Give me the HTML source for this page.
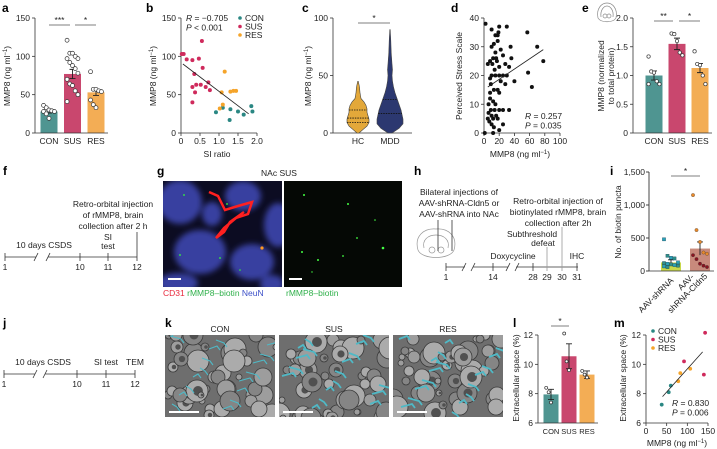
<!DOCTYPE html>
<html><head><meta charset="utf-8"><style>
html,body{margin:0;padding:0;background:#fff;overflow:hidden;}
svg{display:block;font-family:"Liberation Sans",sans-serif;}
.t{font-size:8.5px;fill:#222;}
.ts{font-size:7.5px;fill:#222;}
.pl{font-size:12px;font-weight:bold;fill:#000;}
</style></head><body>
<svg id="fig" width="717" height="449" viewBox="0 0 717 449" xmlns="http://www.w3.org/2000/svg">
<defs>
<filter id="blur2"><feGaussianBlur stdDeviation="3"/></filter>
<clipPath id="cg1"><rect x="163" y="181" width="119" height="106"/></clipPath>
<clipPath id="ck1"><rect x="165" y="335" width="110" height="82"/></clipPath>
<clipPath id="ck2"><rect x="279" y="335" width="110" height="82"/></clipPath>
<clipPath id="ck3"><rect x="393" y="335" width="110" height="82"/></clipPath>
</defs>
<text class="pl" x="2" y="12">a</text>
<text class="pl" x="146" y="12">b</text>
<text class="pl" x="302" y="12">c</text>
<text class="pl" x="451" y="12">d</text>
<text class="pl" x="582" y="12">e</text>
<text class="pl" x="3" y="175">f</text>
<text class="pl" x="157" y="175">g</text>
<text class="pl" x="414" y="175">h</text>
<text class="pl" x="610" y="175">i</text>
<text class="pl" x="3" y="327">j</text>
<text class="pl" x="165" y="327">k</text>
<text class="pl" x="513" y="327">l</text>
<text class="pl" x="614" y="327">m</text>

<text class="t" transform="translate(10,76) rotate(-90)" text-anchor="middle">MMP8 (ng ml<tspan dy="-3" font-size="6">−1</tspan><tspan dy="3">)</tspan></text>
<text class="t" transform="translate(156,76) rotate(-90)" text-anchor="middle">MMP8 (ng ml<tspan dy="-3" font-size="6">−1</tspan><tspan dy="3">)</tspan></text>
<text class="t" x="217" y="157" text-anchor="middle">SI ratio</text>
<text class="t" transform="translate(311,76) rotate(-90)" text-anchor="middle">MMP8 (ng ml<tspan dy="-3" font-size="6">−1</tspan><tspan dy="3">)</tspan></text>
<text class="t" transform="translate(462,76) rotate(-90)" text-anchor="middle">Perceived Stress Scale</text>
<text class="t" x="520" y="157" text-anchor="middle">MMP8 (ng ml<tspan dy="-3" font-size="6">−1</tspan><tspan dy="3">)</tspan></text>
<text class="t" transform="translate(604,76) rotate(-90)" text-anchor="middle"><tspan x="0" dy="0">MMP8 (normalized</tspan><tspan x="0" dy="10">to total protein)</tspan></text>
<text class="t" transform="translate(621,222) rotate(-90)" text-anchor="middle">No. of biotin puncta</text>
<text class="t" transform="translate(519,378) rotate(-90)" text-anchor="middle">Extracellular space (%)</text>
<text class="t" transform="translate(626,378) rotate(-90)" text-anchor="middle">Extracellular space (%)</text>
<text class="t" x="677" y="446" text-anchor="middle">MMP8 (ng ml<tspan dy="-3" font-size="6">−1</tspan><tspan dy="3">)</tspan></text>

<g fill="none" stroke="#888" stroke-width="0.7">
<path d="M598,18 C596,8 602,3 607,3 C612,3 618,8 616,18 C613,23 601,23 598,18 Z"/>
<path d="M601,17 C600,10 604,6 607,6 C610,6 614,10 613,17"/>
<circle cx="605" cy="16" r="2"/><circle cx="609" cy="16" r="2"/>
</g>

<g stroke="#333" stroke-width="0.8">
<line x1="5" y1="257" x2="137" y2="257"/>
<line x1="5" y1="253" x2="5" y2="261"/><line x1="80" y1="253" x2="80" y2="261"/><line x1="108" y1="253" x2="108" y2="261"/><line x1="137" y1="232" x2="137" y2="261"/>
</g>
<rect x="36" y="252" width="12" height="10" fill="#fff"/>
<line x1="34" y1="261" x2="38" y2="253" stroke="#333" stroke-width="0.8"/><line x1="46" y1="261" x2="50" y2="253" stroke="#333" stroke-width="0.8"/>
<g text-anchor="middle">
<text class="t" x="5" y="270">1</text><text class="t" x="80" y="270">10</text><text class="t" x="108" y="270">11</text><text class="t" x="137" y="270">12</text>
<text class="t" x="44" y="248">10 days CSDS</text>
<text class="t" x="108" y="240">SI</text><text class="t" x="108" y="249">test</text>
<text class="t" x="113" y="207">Retro-orbital injection</text>
<text class="t" x="113" y="218">of rMMP8, brain</text>
<text class="t" x="113" y="229">collection after 2 h</text>
</g>

<text class="t" x="279" y="176" text-anchor="middle">NAc SUS</text>
<g clip-path="url(#cg1)">
<rect x="163" y="181" width="119" height="106" fill="#0c0c22"/>
<g fill="#3840a0" filter="url(#blur2)">
<ellipse cx="180" cy="202" rx="22" ry="22"/><ellipse cx="200" cy="252" rx="26" ry="22"/><ellipse cx="243" cy="196" rx="18" ry="15"/>
<ellipse cx="252" cy="262" rx="22" ry="18"/><ellipse cx="278" cy="225" rx="14" ry="22"/><ellipse cx="178" cy="283" rx="20" ry="10"/><ellipse cx="272" cy="284" rx="12" ry="9"/><ellipse cx="212" cy="214" rx="10" ry="12"/>
</g>
<path d="M209,192 L218,196 L225,210 L238,206 L252,202 L248,214 L236,218 L224,228 L216,238 L224,232 L230,222 L244,212" fill="none" stroke="#ff2020" stroke-width="2.5"/>
<circle cx="262" cy="248" r="1.6" fill="#ff9a20"/>
<g fill="#3f3"><circle cx="184" cy="195" r="0.9"/><circle cx="227" cy="204" r="0.9"/><circle cx="180" cy="255" r="0.9"/><circle cx="220" cy="258" r="0.9"/><circle cx="240" cy="270" r="0.8"/></g>
<rect x="168" y="278" width="13" height="2" fill="#fff"/>
</g>
<g>
<rect x="284" y="181" width="118" height="106" fill="#050805"/>
<g fill="#4f4"><circle cx="304" cy="195" r="1"/><circle cx="348" cy="204" r="1"/><circle cx="357" cy="238" r="0.9"/><circle cx="383" cy="248" r="1.3"/><circle cx="302" cy="252" r="1"/><circle cx="318" cy="260" r="1"/><circle cx="343" cy="256" r="0.9"/><circle cx="375" cy="220" r="0.8"/><circle cx="312" cy="272" r="0.7"/></g>
<rect x="289" y="278" width="13" height="2" fill="#fff"/>
</g>
<text class="t" x="163" y="296"><tspan style="fill:#e8283c">CD31</tspan> <tspan style="fill:#2fb04a">rMMP8–biotin</tspan> <tspan style="fill:#3c50c8">NeuN</tspan></text>
<text class="t" x="286" y="296" style="fill:#2fb04a">rMMP8–biotin</text>

<g fill="none" stroke="#999" stroke-width="0.7">
<path d="M418,250 C414,236 424,228 436,229 C448,228 458,236 454,250 C450,260 422,260 418,250 Z"/>
<path d="M424,248 C422,240 428,235 436,235 C444,235 450,240 448,248"/>
<circle cx="432" cy="250" r="3"/><circle cx="441" cy="250" r="3"/>
</g>
<g stroke="#333" stroke-width="0.8">
<line x1="438" y1="220" x2="438" y2="251"/><line x1="452" y1="220" x2="452" y2="251"/>
<line x1="446" y1="267" x2="578" y2="267"/>
<line x1="446" y1="263" x2="446" y2="271"/><line x1="493" y1="263" x2="493" y2="271"/><line x1="533" y1="263" x2="533" y2="271"/>
<line x1="547" y1="247" x2="547" y2="271" stroke="#999"/><line x1="562" y1="227" x2="562" y2="271" stroke="#999"/><line x1="577" y1="263" x2="577" y2="271"/>
</g>
<rect x="465" y="262" width="8" height="10" fill="#fff"/><rect x="508" y="262" width="8" height="10" fill="#fff"/>
<g stroke="#333" stroke-width="0.8"><line x1="462" y1="271" x2="466" y2="263"/><line x1="471" y1="271" x2="475" y2="263"/><line x1="506" y1="271" x2="510" y2="263"/><line x1="515" y1="271" x2="519" y2="263"/></g>
<g text-anchor="middle">
<text class="t" x="446" y="280">1</text><text class="t" x="493" y="280">14</text><text class="t" x="533" y="280">28</text><text class="t" x="547" y="280">29</text><text class="t" x="562" y="280">30</text><text class="t" x="577" y="280">31</text>
<text class="t" x="459" y="195">Bilateral injections of</text><text class="t" x="459" y="206">AAV-shRNA-Cldn5 or</text><text class="t" x="459" y="217">AAV-shRNA into NAc</text>
<text class="t" x="558" y="204">Retro-orbital injection of</text><text class="t" x="558" y="215">biotinylated rMMP8, brain</text><text class="t" x="558" y="226">collection after 2h</text>
<text class="t" x="532" y="237">Subthreshold</text><text class="t" x="543" y="246">defeat</text>
<text class="t" x="513" y="259">Doxycycline</text><text class="t" x="577" y="259">IHC</text>
</g>

<g stroke="#333" stroke-width="0.8">
<line x1="4" y1="374" x2="135" y2="374"/>
<line x1="4" y1="370" x2="4" y2="378"/><line x1="77" y1="370" x2="77" y2="378"/><line x1="106" y1="370" x2="106" y2="378"/><line x1="135" y1="370" x2="135" y2="378"/>
</g>
<rect x="35" y="369" width="10" height="10" fill="#fff"/>
<g stroke="#333" stroke-width="0.8"><line x1="33" y1="378" x2="37" y2="370"/><line x1="43" y1="378" x2="47" y2="370"/></g>
<g text-anchor="middle">
<text class="t" x="4" y="387">1</text><text class="t" x="77" y="387">10</text><text class="t" x="106" y="387">11</text><text class="t" x="135" y="387">12</text>
<text class="t" x="43" y="365">10 days CSDS</text><text class="t" x="106" y="365">SI test</text><text class="t" x="135" y="365">TEM</text>
</g>

<text class="t" x="220" y="332" text-anchor="middle">CON</text>
<text class="t" x="334" y="332" text-anchor="middle">SUS</text>
<text class="t" x="448" y="332" text-anchor="middle">RES</text>
<g id="kimgs"></g>

<g id="charts"></g>

<g>
<line x1="649" y1="172" x2="649" y2="271" stroke="#333" stroke-width="0.9"/>
<line x1="646" y1="271" x2="649" y2="271" stroke="#333" stroke-width="0.9"/>
<line x1="646" y1="238" x2="649" y2="238" stroke="#333" stroke-width="0.9"/>
<line x1="646" y1="205" x2="649" y2="205" stroke="#333" stroke-width="0.9"/>
<line x1="646" y1="172" x2="649" y2="172" stroke="#333" stroke-width="0.9"/>
<text x="645" y="274" text-anchor="end" font-size="8.5" fill="#222">0</text>
<text x="645" y="241" text-anchor="end" font-size="8.5" fill="#222">500</text>
<text x="645" y="208" text-anchor="end" font-size="8.5" fill="#222">1,000</text>
<text x="645" y="175" text-anchor="end" font-size="8.5" fill="#222">1,500</text>
</g>
</svg>
<script>
const NS='http://www.w3.org/2000/svg';
const root=document.getElementById('charts');
function mk(tag,attrs,parent){const e=document.createElementNS(NS,tag);for(const k in attrs)e.setAttribute(k,attrs[k]);(parent||root).appendChild(e);return e;}
function lin(d0,d1,p0,p1){return v=>p0+(v-d0)*(p1-p0)/(d1-d0);}

const TEAL='#4f9591',PINK='#c9476e',ORANGE='#f3ad55';
const DTEAL='#2a8783',DPINK='#cf2a5c',DORANGE='#f5a42a';

const aCats=['CON','SUS','RES'];
const aMeans=[28,77,53];
const aSem=[2,6,4];
const aCon=[36,33,30,29,28,28,25,19];
const aSus=[121,104,104,100,97,97,92,88,84,78,70,64,62,55,50,41];
const aRes=[80,57,57,55,54,43,37,33];
const aTicks=[0,50,100,150];

const bConX=[0.92,1.1,1.3,1.5,1.28,1.65,1.85,1.88];
const bConY=[27,33,31,28,17,24,35,28];
const bSusX=[0.02,0.07,0.15,0.3,0.47,0.57,0.55,0.35,0.4,0.3,0.37,0.3,0.52,0.65,0.72,0.76];
const bSusY=[103,103,96,95,97,85,120,77,63,60,53,40,63,60,66,56];
const bResX=[1.15,1.07,1.1,1.02,1.3,1.38,1.45];
const bResY=[80,53,37,32,54,55,55];
const bFit=[[0.05,90],[1.78,25]];
const bXTicks=[0,0.5,1.0,1.5,2.0];
const bXLabels=['0','0.5','1.0','1.5','2.0'];
const bYTicks=[0,50,100,150];

const cCats=['HC','MDD'];
const cHCLevels=[0,3,6,9,12,15,18,21,24,27,30,35,40,45];
const cHCDens=[1,5,9,11,11,10,9,9,8,6,3,2,1.5,0.3];
const cMDDLevels=[0,4,8,12,16,20,25,30,35,40,45,50,55,60,70,80,90];
const cMDDDens=[2,9,13,13,12,11,9,7,5,3.5,2.5,2,2.5,2,1.2,0.8,0.2];
const cHCQuart=[9,13,20];
const cMDDQuart=[17,29];
const cTicks=[0,50,100];

const dX=[2,10,20,15,18,30,57,70,78,58,63,40,35,36,25,13,10,15,22,18,28,20,12,8,5,14,10,20,25,15,28,33,13,18,8,20,12,8,6,9,14,20,25,33,6,10,12,16,18,7,10,25,13,20,1,12,5,15,22,9,17,30,8,11,19,16];
const dY=[38,36,37,34,34,37,35,30,25,21,16,18,30,26,27,31,30,28,29,32,24,23,26,25,24,22,20,20,20,20,17,23,15,15,14,14,11,12,10,8,8,8,8,8,7,6,5,6,5,4,3,3,2,1,0,0,5,10,18,17,25,20,19,24,35,26];
const dFit=[[5,16],[78,29]];
const dXTicks=[0,20,40,60,80,100];
const dYTicks=[0,10,20,30,40];

const eCats=['CON','SUS','RES'];
const eMeans=[1.0,1.55,1.13];
const eSem=[0.08,0.1,0.08];
const eCon=[1.33,1.07,1.05,0.9,0.85,0.85];
const eSus=[1.73,1.72,1.6,1.4,1.35];
const eRes=[1.42,1.2,1.18,1.0,0.85];
const eTicks=[0,0.5,1.0,1.5,2.0];
const eLabels=['0','0.5','1.0','1.5','2.0'];

const iCats=['AAV-shRNA','AAV-shRNA-Cldn5'];
const iMeans=[130,340];
const iSem=[40,100];
const iCtrl=[480,230,200,190,130,120,110,100,90,80,70,60];
const iKd=[1150,620,440,280,260,240,180,110,80,60];
const iTicks=[0,500,1000,1500];
const iLabels=['0','500','1,000','1,500'];

const lCats=['CON','SUS','RES'];
const lMeans=[7.95,10.55,9.3];
const lSem=[0.35,0.85,0.25];
const lCon=[8.4,8.1,7.4];
const lSus=[12.1,10.2,9.6];
const lRes=[9.55,9.3,9.1];
const lTicks=[6,8,10,12];

const mConX=[38,55,60];const mConY=[7.25,8.1,8.55];
const mSusX=[92,140,143];const mSusY=[10.2,9.3,12.15];
const mResX=[78,83,107];const mResY=[8.85,9.4,9.7];
const mFit=[[40,7.8],[137,10.85]];
const mXTicks=[0,50,100,150];
const mYTicks=[6,8,10,12];

function yAxis(x,sy,ticks,labels,name){
  const g=mk('g',{});
  
  
  mk('line',{x1:x,x2:x,y1:sy(ticks[0]),y2:sy(ticks[ticks.length-1]),stroke:'#333','stroke-width':0.8},g);
  ticks.forEach((t,i)=>{
    mk('line',{x1:x-3,x2:x,y1:sy(t),y2:sy(t),stroke:'#333','stroke-width':0.8},g);
    const tx=mk('text',{x:x-5,y:sy(t)+3,'text-anchor':'end',class:'t'},g);
    
    
    tx.textContent=labels?labels[i]:String(t);
  });
}
function xAxis(y,sx,ticks,labels,name,x0,x1){
  const g=mk('g',{});
  
  
  const pos=t=>sx?sx(t):t;
  mk('line',{x1:x0!==undefined?x0:pos(ticks[0]),x2:x1!==undefined?x1:pos(ticks[ticks.length-1]),y1:y,y2:y,stroke:'#333','stroke-width':0.8},g);
  ticks.forEach((t,i)=>{
    if(sx){mk('line',{x1:pos(t),x2:pos(t),y1:y,y2:y+3,stroke:'#333','stroke-width':0.8},g);}
    const tx=mk('text',{x:pos(t),y:y+11,'text-anchor':'middle',class:'t'},g);
    
    
    tx.textContent=labels?labels[i]:String(t);
  });
}
function barChart(cats,means,sem,pts,cx,sy,base,colors,w,name,ptR){
  const g=mk('g',{});
  
  
  cats.forEach((c,i)=>{
    const x=cx(i);
    const r=mk('rect',{x:x-w/2,y:sy(means[i]),width:w,height:sy(base)-sy(means[i]),fill:colors[i]},g);
    
    
    const e=mk('path',{d:`M${x},${sy(means[i]-sem[i])}V${sy(means[i]+sem[i])}M${x-3},${sy(means[i]+sem[i])}H${x+3}M${x-3},${sy(means[i]-sem[i])}H${x+3}`,stroke:'#222','stroke-width':0.9,fill:'none'},g);
    
    
    pts[i].forEach((v,j)=>{
      const off=((j%5)-2)*w*0.16;
      const p=mk('circle',{cx:x+off,cy:sy(v),r:ptR||1.9,fill:'#fff',stroke:'#333','stroke-width':0.7},g);
      
      
    });
  });
}
function barBase(cats,cx,y,x0,x1,name,cls){
  const g=mk('g',{});
  
  
  mk('line',{x1:x0,x2:x1,y1:y,y2:y,stroke:'#333','stroke-width':0.8},g);
  cats.forEach((c,i)=>{
    const tx=mk('text',{x:cx(i),y:y+11,'text-anchor':'middle',class:cls||'t'},g);
    
    
    tx.textContent=c;
  });
}
function sig(x1,x2,y,txt,name){
  const g=mk('g',{});
  
  
  mk('line',{x1:x1,x2:x2,y1:y,y2:y,stroke:'#555','stroke-width':0.8},g);
  const t=mk('text',{x:(x1+x2)/2,y:y-2,'text-anchor':'middle',class:'t'},g);
  t.textContent=txt;
}
function scatter(xs,ys,sx,sy,color,r,name){
  const g=mk('g',{});
  
  
  xs.forEach((v,i)=>{
    const c=mk('circle',{cx:sx(v),cy:sy(ys[i]),r:r,fill:color},g);
    
    
  });
}
function fitLine(f,sx,sy,name){
  const l=mk('line',{x1:sx(f[0][0]),y1:sy(f[0][1]),x2:sx(f[1][0]),y2:sy(f[1][1]),stroke:'#222','stroke-width':0.8});
  
  
}
function legend(x,y,items,name){
  const g=mk('g',{});
  
  
  items.forEach((it,i)=>{
    const e=mk('g',{},g);
    
    
    mk('circle',{cx:x,cy:y+i*8.5,r:1.8,fill:it[1]},e);
    const t=mk('text',{x:x+5,y:y+i*8.5+3,class:'t'},e);
    t.textContent=it[0];
  });
}
function stat(x,y,r,p,name){
  const t=mk('text',{x:x,y:y,class:'t'});
  
  
  t.innerHTML=`<tspan font-style="italic">R</tspan> = ${r}<tspan x="${x}" dy="9.5"><tspan font-style="italic">P</tspan> ${p}</tspan>`;
}

/* a */
const ay=lin(0,150,133,18);
const ax=i=>49+i*23.5;
yAxis(35,ay,aTicks,null,'a-y-axis');
barChart(aCats,aMeans,aSem,[aCon,aSus,aRes],ax,ay,0,[TEAL,PINK,ORANGE],17,'a-bar-chart',2);
barBase(aCats,ax,133,35,108,'a-x-axis');
sig(49,70,25,'***','a-significance-con-sus');
sig(75,96,25,'*','a-significance-sus-res');

/* b */
const bx=lin(0,2,181,257), by=lin(0,150,133,18);
yAxis(181,by,bYTicks,null,'b-y-axis');
xAxis(133,bx,bXTicks,bXLabels,'b-x-axis');
scatter(bConX,bConY,bx,by,DTEAL,2,'b-series-con');
scatter(bSusX,bSusY,bx,by,DPINK,2,'b-series-sus');
scatter(bResX,bResY,bx,by,DORANGE,2,'b-series-res');
fitLine(bFit,bx,by,'b-fit-line');
stat(186,21,'−0.705','&lt; 0.001','b-stats');
legend(240,18,[['CON',DTEAL],['SUS',DPINK],['RES',DORANGE]],'b-legend');

/* c */
const cy=lin(0,100,133,18);
yAxis(333,cy,cTicks,null,'c-y-axis');
xAxis(133,null,[358,390],cCats,'c-x-axis',333,412);
function violin(cx,levels,dens,quart,fill,name){
  const g=mk('g',{});
  
  
  let d='M'+cx+','+cy(levels[0]);
  levels.forEach((l,i)=>{d+=` L${cx+dens[i]},${cy(l)}`;});
  for(let i=levels.length-1;i>=0;i--){d+=` L${cx-dens[i]},${cy(levels[i])}`;}
  d+='Z';
  mk('path',{d:d,fill:fill,stroke:'#444','stroke-width':0.6,'stroke-linejoin':'round'},g);
  quart.forEach(q=>{
    let k=0;while(k<levels.length-2&&levels[k+1]<q)k++;
    const t=(q-levels[k])/(levels[k+1]-levels[k]);
    const w=dens[k]+(dens[k+1]-dens[k])*t;
    mk('line',{x1:cx-w,x2:cx+w,y1:cy(q),y2:cy(q),stroke:'#111','stroke-width':0.8,'stroke-dasharray':'1.5,1'},g);
  });
}
violin(358,cHCLevels,cHCDens,cHCQuart,'#e3a83a','c-violin-hc');
violin(390,cMDDLevels,cMDDDens,cMDDQuart,'#2c3870','c-violin-mdd');
sig(358,390,23,'*','c-significance');

/* d */
const dx=lin(0,100,484,560), dy=lin(0,40,133,18);
yAxis(484,dy,dYTicks,null,'d-y-axis');
xAxis(133,dx,dXTicks,null,'d-x-axis');
scatter(dX,dY,dx,dy,'#111',2,'d-scatter');
fitLine(dFit,dx,dy,'d-fit-line');
stat(525,119,'0.257','= 0.035','d-stats');

/* e */
const ey=lin(0,2,133,18);
const ex=i=>654+i*23;
yAxis(633,ey,eTicks,eLabels,'e-y-axis');
barChart(eCats,eMeans,eSem,[eCon,eSus,eRes],ex,ey,0,[TEAL,PINK,ORANGE],17,'e-bar-chart',1.7);
barBase(eCats,ex,133,633,712,'e-x-axis');
sig(654,673,21,'**','e-significance-con-sus');
sig(679,700,21,'*','e-significance-sus-res');

/* i */
const iy=lin(iTicks[0],iTicks[iTicks.length-1],271,172);
(function(){
  const g=mk('g',{});
  
  
  const cols=['#c8d84a','#c88a7c'];
  const centers=[671,700];
  iCats.forEach((c,i)=>{
    const r=mk('rect',{x:centers[i]-10,y:iy(iMeans[i]),width:20,height:271-iy(iMeans[i]),fill:cols[i]},g);
    
    
    const x=centers[i];
    mk('path',{d:`M${x},${iy(iMeans[i]-iSem[i])}V${iy(iMeans[i]+iSem[i])}M${x-3},${iy(iMeans[i]+iSem[i])}H${x+3}`,stroke:'#222','stroke-width':0.9},g);
  });
  iCtrl.forEach((v,j)=>{
    const p=mk('rect',{x:671+((j%5)-2)*3.5-1.6,y:iy(v)-1.6,width:3.2,height:3.2,fill:j%2?'#2f8f8a':'#2aa0b8',stroke:'#134','stroke-width':0.3},g);
    
    
  });
  iKd.forEach((v,j)=>{
    const p=mk('circle',{cx:700+((j%5)-2)*3.5,cy:iy(v),r:1.7,fill:j<5?'#e8892a':'#8a1420',stroke:'#333','stroke-width':0.3},g);
    
    
  });
  mk('line',{x1:649,x2:714,y1:271,y2:271,stroke:'#333','stroke-width':0.8},g);
  const t1=mk('text',{class:'t',transform:'translate(674,281) rotate(-45)','text-anchor':'end'},g);
  
  
  t1.textContent='AAV-shRNA';
  const t2=mk('text',{class:'t',transform:'translate(698,281) rotate(-45)','text-anchor':'end'},g);
  
  
  t2.innerHTML='<tspan x="0" dy="-5">AAV-</tspan><tspan x="10" dy="9">shRNA-Cldn5</tspan>';
})();
sig(671,700,176,'*','i-significance');

/* l */
const ly=lin(6,12,423,335);
const lx=i=>551+i*18;
yAxis(538,ly,lTicks,null,'l-y-axis');
barChart(lCats,lMeans,lSem,[lCon,lSus,lRes],lx,ly,6,[TEAL,PINK,ORANGE],15,'l-bar-chart',1.5);
barBase(lCats,lx,423,538,598,'l-x-axis','ts');
sig(551,569,326,'*','l-significance');

/* m */
const mx=lin(0,150,646,708), my=lin(6,12,423,335);
yAxis(646,my,mYTicks,null,'m-y-axis');
xAxis(423,mx,mXTicks,null,'m-x-axis');
scatter(mConX,mConY,mx,my,DTEAL,1.9,'m-series-con');
scatter(mSusX,mSusY,mx,my,DPINK,1.9,'m-series-sus');
scatter(mResX,mResY,mx,my,DORANGE,1.9,'m-series-res');
fitLine(mFit,mx,my,'m-fit-line');
legend(653,331,[['CON',DTEAL],['SUS',DPINK],['RES',DORANGE]],'m-legend');
stat(672,406,'0.830','= 0.006','m-stats');

/* k micrographs (decorative texture) */
(function(){
  const kg=document.getElementById('kimgs');
  const xs=[165,279,393];
  const names=['k-image-con','k-image-sus','k-image-res'];
  xs.forEach((x0,k)=>{
    const g=mk('g',{'clip-path':`url(#ck${k+1})`},kg);
    
    
    mk('rect',{x:x0,y:335,width:110,height:82,fill:'#6e6e6e'},g);
    for(let i=0;i<45;i++){
      const px=x0+((i*29+k*17)%112), py=335+((i*17+k*23+i*i)%84);
      const r=3+((i*7+k*3)%9);
      mk('circle',{cx:px,cy:py,r:r,fill:(i%3===0)?'#9d9d9d':(i%3===1?'#858585':'#ababab'),stroke:'#3a3a3a','stroke-width':0.8},g);
      if(i%4===0)mk('circle',{cx:px+1,cy:py,r:r*0.45,fill:'#505050'},g);
    }
    for(let i=0;i<18;i++){
      const px=x0+((i*37+k*19)%104), py=335+((i*23+k*13)%78);
      mk('path',{d:`M${px},${py} l${5+(i%3)*3},${(i%2?3:-3)} l3,4`,stroke:'#4fb9c6','stroke-width':k===0?1.1:1.8,fill:'none'},g);
    }
    mk('rect',{x:x0+4,y:411,width:30,height:2,fill:'#fff'},g);
  });
})();
</script>
</body></html>
